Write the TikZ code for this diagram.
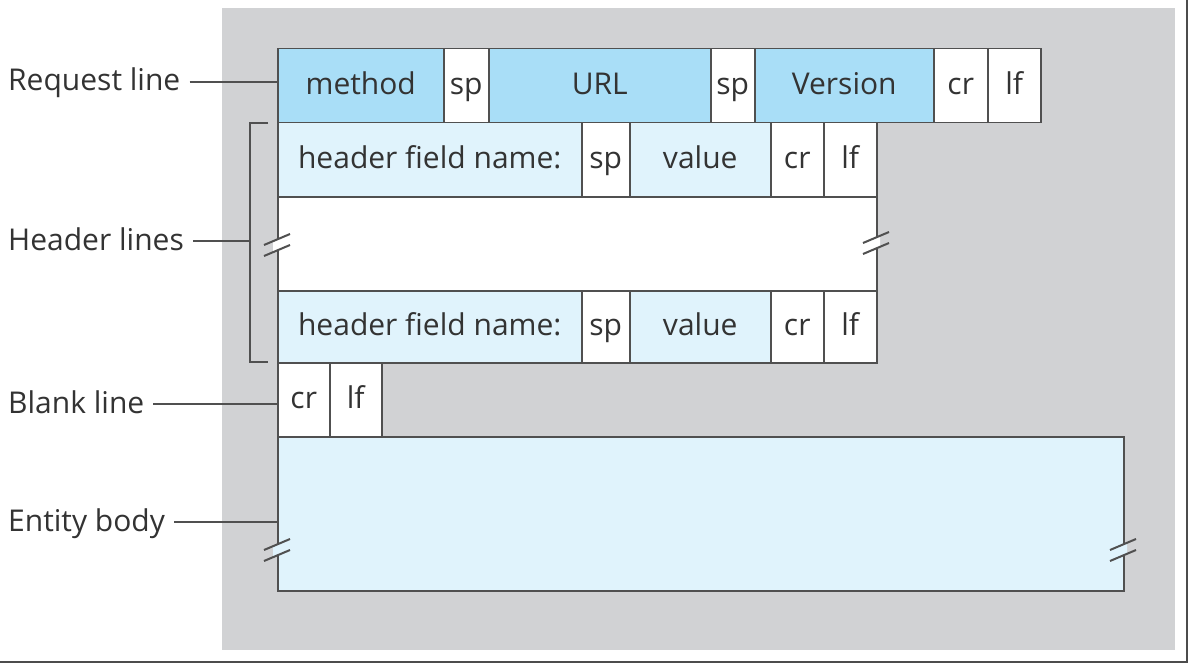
\documentclass[tikz,border=0pt]{standalone}
\usepackage{fontspec}
\setmainfont{Open Sans}
\definecolor{panel}{HTML}{D1D2D4}
\definecolor{dblue}{HTML}{A9DEF7}
\definecolor{lblue}{HTML}{E0F3FC}
\definecolor{linec}{HTML}{505050}
\definecolor{txt}{HTML}{333333}
\newcommand\mycell[7]{\node[cell, fill=#6, minimum width=#4pt, minimum height=#5pt] (#1) at (#2,#3) {#7};}
\newcommand\brkmark[3]{%
  \fill[#3] (#1-4,#2-3.3) -- (#1+4,#2-6.7) -- (#1+4,#2+3.3) -- (#1-4,#2+6.7) -- cycle;
  \draw[brk] (#1-13,#2) -- (#1+13,#2-11);
  \draw[brk] (#1-13,#2+11) -- (#1+13,#2);}
\begin{document}
\begin{tikzpicture}[x=1pt,y=-1pt,
  every node/.style={font=\fontsize{30}{36}\selectfont, text=txt},
  cell/.style={draw=linec, line width=1.5pt, inner sep=0pt, anchor=north west,
    text height=18pt, text depth=0pt},
  lbl/.style={anchor=west, inner sep=0pt, text height=18pt, text depth=0pt},
  conn/.style={draw=linec, line width=1.2pt},
  brk/.style={draw=linec, line width=2pt}]
\useasboundingbox (0,0) rectangle (1189,666);
\fill[white] (0,0) rectangle (1189,666);
\fill[panel] (222,8) rectangle (1175,650);
\draw[black!70, line width=2.5pt] (0,662) -- (1187,662) -- (1187,0);
% request line
\mycell{method}{277}{48}{166}{74}{dblue}{method}
\mycell{rsp1}{443}{48}{45}{74}{white}{sp}
\mycell{url}{488}{48}{222}{74}{dblue}{URL}
\mycell{rsp2}{710}{48}{44}{74}{white}{sp}
\mycell{ver}{754}{48}{179}{74}{dblue}{Version}
\mycell{rcr}{933}{48}{54}{74}{white}{cr}
\mycell{rlf}{987}{48}{53}{74}{white}{lf}
% header 1
\mycell{hname1}{277}{122}{304}{74}{lblue}{header field name:}
\mycell{hsp1}{581}{122}{48}{74}{white}{sp}
\mycell{hval1}{629}{122}{141}{74}{lblue}{value}
\mycell{hcr1}{770}{122}{53}{74}{white}{cr}
\mycell{hlf1}{823}{122}{53}{74}{white}{lf}
% middle
\mycell{mid}{277}{196}{599}{94}{white}{}
% header 2
\mycell{hname2}{277}{290}{304}{72}{lblue}{header field name:}
\mycell{hsp2}{581}{290}{48}{72}{white}{sp}
\mycell{hval2}{629}{290}{141}{72}{lblue}{value}
\mycell{hcr2}{770}{290}{53}{72}{white}{cr}
\mycell{hlf2}{823}{290}{53}{72}{white}{lf}
% blank line
\mycell{bcr}{277}{362}{52}{74}{white}{cr}
\mycell{blf}{329}{362}{52}{74}{white}{lf}
% entity body
\mycell{body}{277}{436}{846}{154}{lblue}{}
% break marks
\brkmark{277}{245}{white}
\brkmark{876}{243}{white}
\brkmark{277}{550}{lblue}
\brkmark{1123}{550}{lblue}
% labels
\node[lbl] (lreq) at (8,82) {Request line};
\node[lbl] (lhdr) at (8,241) {Header lines};
\node[lbl] (lblank) at (8,404) {Blank line};
\node[lbl] (lbody) at (8,522) {Entity body};
% bracket
\coordinate (brk) at (250,241);
\draw[conn] (268,123) -- (250,123) -- (250,362) -- (268,362);
% connectors
\draw[conn, shorten <=9pt] (lreq.east) -- (lreq.east -| method.west);
\draw[conn, shorten <=9pt] (lhdr.east) -- (brk);
\draw[conn, shorten <=9pt] (lblank.east) -- (lblank.east -| bcr.west);
\draw[conn, shorten <=9pt] (lbody.east) -- (lbody.east -| body.west);
\end{tikzpicture}
\end{document}
